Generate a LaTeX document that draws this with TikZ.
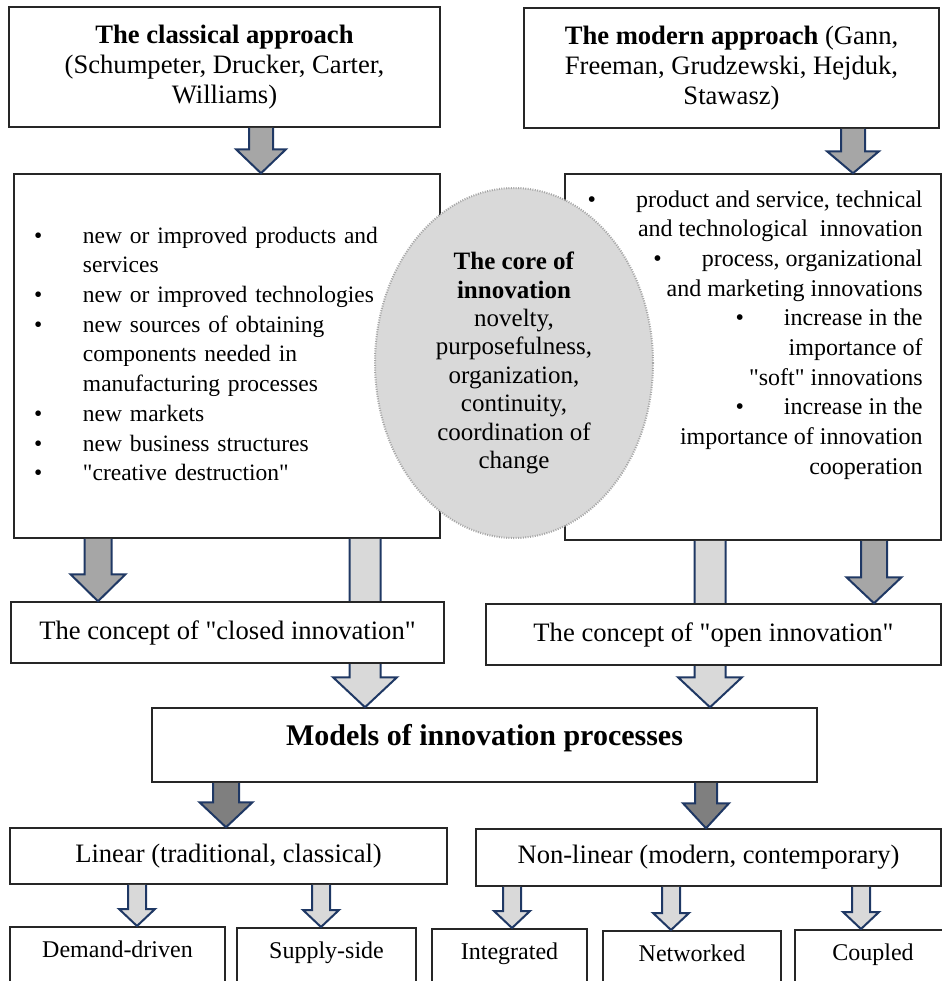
\documentclass[tikz,border=0pt]{standalone}
\usepackage{fontspec}
\setmainfont{Liberation Serif}
\usetikzlibrary{calc,shapes.geometric}

\definecolor{arrowblue}{HTML}{1F3864}
\definecolor{fillmid}{HTML}{A6A6A6}
\definecolor{filllight}{HTML}{D9D9D9}
\definecolor{filldark}{HTML}{7F7F7F}
\definecolor{corefill}{HTML}{D9D9D9}

% block arrow: fill, x, from node, to node, shaft half width, head half width, head length
\newcommand{\blockarrow}[7]{%
  \fill[#1] let \p1=(#2,0 |- #3.south), \p2=(#2,0 |- #4.north) in
    (\x1-#5,\y1) -- (\x1-#5,\y2+#7) -- (\x1-#6,\y2+#7) -- (\x1,\y2)
    -- (\x1+#6,\y2+#7) -- (\x1+#5,\y2+#7) -- (\x1+#5,\y1) -- cycle;
  \draw[arrowedge] let \p1=(#2,0 |- #3.south), \p2=(#2,0 |- #4.north) in
    (\x1-#5,\y1) -- (\x1-#5,\y2+#7) -- (\x1-#6,\y2+#7) -- (\x1,\y2)
    -- (\x1+#6,\y2+#7) -- (\x1+#5,\y2+#7) -- (\x1+#5,\y1);%
}
\newcommand{\dq}{\textquotedbl}

\begin{document}
\begin{tikzpicture}[x=0.5pt,y=-0.5pt,
    box/.style={draw=black!85,line width=0.75pt,fill=white,inner sep=0pt,align=center},
    arrowedge/.style={draw=arrowblue,line width=1pt,line join=miter},
    bigtext/.style={font=\fontsize{13.3}{15}\selectfont},
    smalltext/.style={font=\fontsize{12}{14.85}\selectfont},
    leaf/.style={box,smalltext,anchor=north,minimum height=35pt,text height=8pt,text depth=12pt}]
    \useasboundingbox (0,0) rectangle (942,981);

    \node[box,bigtext,minimum width=215.5pt,minimum height=60pt] (classical) at (224.5,67) {\textbf{The classical approach}\\(Schumpeter, Drucker, Carter,\\Williams)};
    \node[box,bigtext,minimum width=207.5pt,minimum height=60pt] (modern) at (731.5,68) {\textbf{The modern approach} (Gann,\\Freeman, Grudzewski, Hejduk,\\Stawasz)};

    \node[box,font=\fontsize{11.75}{14.85}\selectfont,minimum width=213pt,minimum height=182pt,text width=193pt,inner xsep=10pt,align=left] (classlist) at (227,356) {%
      \begin{tabular}{@{}p{24.5pt}@{}l@{}}
        \textbullet & new or improved products and\\
                    & services\\
        \textbullet & new or improved technologies\\
        \textbullet & new sources of obtaining\\
                    & components needed in\\
                    & manufacturing processes\\
        \textbullet & new markets\\
        \textbullet & new business structures\\
        \textbullet & \dq creative destruction\dq
      \end{tabular}};
    \node[box,minimum width=188pt,minimum height=183pt] (modlist) at (753,357) {};
    \node[box,font=\fontsize{15}{17}\selectfont\bfseries,minimum width=332.5pt,minimum height=37pt,text height=10pt,text depth=10pt] (models) at (484.5,745) {Models of innovation processes};

    % long arrows run behind the concept boxes
    \blockarrow{filllight}{365}{classlist}{models}{7.75pt}{16pt}{15pt}
    \blockarrow{filllight}{710}{modlist}{models}{7.75pt}{16pt}{15pt}

    \node[box,bigtext,minimum width=216.5pt,minimum height=30.5pt] (closed) at (227.5,632.5) {The concept of \dq closed innovation\dq};
    \node[box,bigtext,minimum width=227.5pt,minimum height=30.5pt] (open) at (713.5,634.5) {The concept of \dq open innovation\dq};

    \node[box,bigtext,minimum width=218.5pt,minimum height=28pt] (linear) at (228.5,856) {Linear (traditional, classical)};
    \node[box,bigtext,minimum width=232.5pt,minimum height=28.5pt] (nonlinear) at (708.5,857.5) {Non-linear (modern, contemporary)};

    \node[leaf,minimum width=107.5pt] (demand) at (117.5,926) {Demand-driven};
    \node[leaf,minimum width=89.5pt] (supply) at (326.5,927) {Supply-side};
    \node[leaf,minimum width=77.5pt] (integrated) at (509.5,928) {Integrated};
    \node[leaf,minimum width=89pt] (networked) at (692,930) {Networked};
    \node[leaf,minimum width=78pt] (coupled) at (873,929) {Coupled};

    \node[ellipse,draw=gray!70,line width=1pt,dash pattern=on 0.5pt off 0.7pt,fill=corefill,minimum width=139pt,minimum height=175pt,inner sep=0pt,align=center,font=\fontsize{12.5}{14.2}\selectfont] (core) at (514,363) {\textbf{The core of}\\\textbf{innovation}\\novelty,\\purposefulness,\\organization,\\continuity,\\coordination of\\change};

    \node[smalltext,anchor=north east,inner sep=0pt,align=right] (modtext) at (923,190) {%
      \textbullet\hspace{20pt}product and service, technical\\
      and technological~ innovation\\
      \textbullet\hspace{20pt}process, organizational\\
      and marketing innovations\\
      \textbullet\hspace{20pt}increase in the\\
      importance of\\
      \dq soft\dq{} innovations\\
      \textbullet\hspace{20pt}increase in the\\
      importance of innovation\\
      cooperation};

    \blockarrow{fillmid}{261}{classical}{classlist}{6pt}{12.5pt}{12pt}
    \blockarrow{fillmid}{853}{modern}{modlist}{6pt}{13pt}{11pt}
    \blockarrow{fillmid}{98}{classlist}{closed}{6.75pt}{13.75pt}{13.5pt}
    \blockarrow{fillmid}{874}{modlist}{open}{6.5pt}{13.75pt}{13pt}
    \blockarrow{filldark}{226}{models}{linear}{6.5pt}{13.25pt}{12.5pt}
    \blockarrow{filldark}{706}{models}{nonlinear}{5.5pt}{11.5pt}{12.5pt}

    \blockarrow{filllight}{137}{linear}{demand}{4.5pt}{9pt}{8.5pt}
    \blockarrow{filllight}{321}{linear}{supply}{4.5pt}{9pt}{8.5pt}
    \blockarrow{filllight}{512}{nonlinear}{integrated}{4.5pt}{9pt}{8.5pt}
    \blockarrow{filllight}{671}{nonlinear}{networked}{4.5pt}{9pt}{8.5pt}
    \blockarrow{filllight}{861}{nonlinear}{coupled}{4.5pt}{9pt}{8.5pt}
\end{tikzpicture}
\end{document}
